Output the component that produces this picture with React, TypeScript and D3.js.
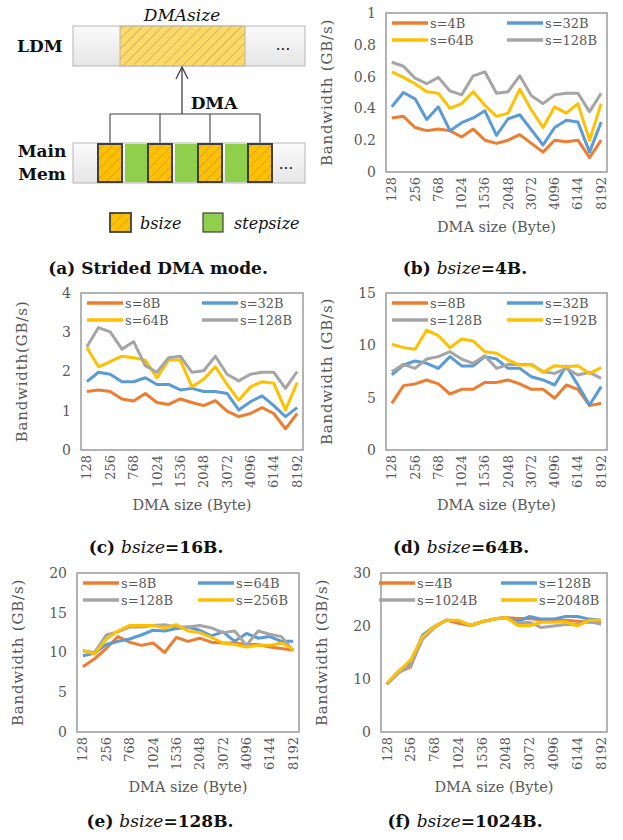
import React from "react";
import * as d3 from "d3";

// x categories (only every other one is labelled on the axis)
const dmaSizes = ["128", "192", "256", "512", "768", "896", "1024", "1280", "1536", "1792", "2048", "2560", "3072", "3584", "4096", "5120", "6144", "7168", "8192"];

// (b) bsize=4B
const b4_s4 = [0.34, 0.35, 0.28, 0.26, 0.27, 0.26, 0.22, 0.27, 0.2, 0.18, 0.2, 0.235, 0.18, 0.125, 0.2, 0.19, 0.2, 0.09, 0.2];
const b4_s32 = [0.41, 0.5, 0.46, 0.33, 0.41, 0.26, 0.31, 0.34, 0.385, 0.23, 0.335, 0.36, 0.265, 0.17, 0.28, 0.325, 0.315, 0.125, 0.315];
const b4_s64 = [0.63, 0.595, 0.555, 0.505, 0.495, 0.4, 0.43, 0.505, 0.42, 0.35, 0.37, 0.52, 0.39, 0.28, 0.41, 0.37, 0.43, 0.2, 0.43];
const b4_s128 = [0.69, 0.665, 0.59, 0.555, 0.595, 0.51, 0.485, 0.605, 0.63, 0.495, 0.505, 0.605, 0.48, 0.43, 0.485, 0.495, 0.495, 0.38, 0.495];

// (c) bsize=16B
const b16_s8 = [1.49, 1.53, 1.49, 1.3, 1.25, 1.44, 1.21, 1.16, 1.3, 1.21, 1.13, 1.26, 0.99, 0.85, 0.93, 1.08, 0.93, 0.54, 0.93];
const b16_s32 = [1.74, 1.98, 1.93, 1.74, 1.74, 1.84, 1.67, 1.67, 1.53, 1.57, 1.49, 1.49, 1.44, 1.02, 1.23, 1.38, 1.13, 0.85, 1.08];
const b16_s64 = [2.61, 2.12, 2.25, 2.39, 2.35, 2.29, 1.84, 2.29, 2.29, 1.61, 1.8, 2.12, 1.67, 1.27, 1.61, 1.74, 1.7, 1.02, 1.72];
const b16_s128 = [2.63, 3.12, 3.01, 2.57, 2.76, 2.15, 1.98, 2.35, 2.39, 1.98, 2.02, 2.39, 1.93, 1.76, 1.93, 1.98, 1.98, 1.57, 2.0];

// (d) bsize=64B
const b64_s8 = [4.46, 6.15, 6.31, 6.69, 6.31, 5.35, 5.8, 5.8, 6.46, 6.46, 6.69, 6.31, 5.8, 5.8, 4.94, 6.21, 5.8, 4.24, 4.46];
const b64_s32 = [7.17, 8.12, 8.5, 8.28, 7.8, 8.92, 8.03, 8.03, 8.92, 8.69, 7.8, 7.8, 7.0, 6.69, 6.21, 8.03, 6.21, 4.3, 6.05];
const b64_s128 = [7.48, 8.18, 7.8, 8.69, 8.92, 9.39, 8.69, 8.28, 9.01, 7.8, 8.18, 8.18, 8.18, 7.48, 7.32, 7.8, 7.17, 7.42, 6.85];
const b64_s192 = [10.1, 9.78, 9.62, 11.46, 10.92, 9.78, 10.6, 10.41, 9.39, 9.24, 8.6, 8.12, 8.12, 7.42, 8.06, 7.96, 8.06, 7.32, 7.87];

// (e) bsize=128B
const b128_s8 = [8.2, 9.2, 10.5, 12.0, 11.3, 10.9, 11.2, 10.0, 11.9, 11.4, 11.8, 11.3, 11.2, 11.2, 11.0, 11.0, 10.7, 10.5, 10.3];
const b128_s64 = [9.6, 9.9, 11.0, 11.4, 11.7, 12.2, 12.8, 12.7, 13.0, 13.2, 12.8, 12.1, 12.6, 11.4, 12.4, 11.8, 12.0, 11.4, 11.4];
const b128_s128 = [10.2, 10.0, 12.2, 12.6, 13.2, 13.2, 13.4, 13.5, 13.2, 13.2, 13.4, 13.1, 12.5, 12.7, 10.9, 12.7, 12.3, 12.0, 10.2];
const b128_s256 = [10.3, 9.8, 11.7, 12.7, 13.4, 13.4, 13.4, 13.1, 13.5, 12.7, 12.5, 11.9, 11.2, 11.0, 10.7, 10.9, 10.9, 11.2, 10.4];

// (f) bsize=1024B
const b1024_s4 = [9.0, 11.3, 12.3, 18.0, 19.9, 21.1, 20.5, 20.1, 20.8, 21.3, 21.6, 21.4, 21.4, 21.1, 21.1, 21.1, 20.9, 20.7, 20.7];
const b1024_s128 = [9.1, 11.5, 13.0, 18.3, 19.9, 21.1, 21.0, 20.1, 20.8, 21.3, 21.6, 20.8, 21.8, 21.3, 21.3, 21.8, 21.8, 21.3, 21.1];
const b1024_s1024 = [9.0, 11.2, 12.6, 17.5, 19.7, 21.1, 21.0, 20.1, 20.8, 21.3, 21.6, 20.5, 20.7, 19.7, 20.0, 20.3, 20.3, 20.9, 20.3];
const b1024_s2048 = [9.2, 11.5, 13.6, 18.0, 19.9, 21.1, 21.1, 20.1, 20.8, 21.3, 21.6, 20.1, 20.1, 20.7, 20.7, 20.8, 20.0, 21.1, 21.1];

const ORANGE = "#ed7d31";
const BLUE = "#5b9bd5";
const YELLOW = "#ffc000";
const GRAY = "#a5a5a5";
const FONT = "'DejaVu Serif', serif";
const INK = "#595959";

type Series = { name: string; color: string; values: number[] };

type PanelProps = {
  left: number; top: number; right: number; bottom: number;
  yMax: number; yTicks: number[];
  series: Series[];
  legendX?: number[];
  yTitle?: string;
  tickFmt?: (d: number) => string;
};

const LinePanel = ({ left, top, right, bottom, yMax, yTicks, series, legendX = [6, 121], yTitle = "Bandwidth (GB/s)", tickFmt = d => String(d) }: PanelProps) => {
  const x = d3.scalePoint<string>().domain(dmaSizes).range([left, right]).padding(0.5);
  const y = d3.scaleLinear().domain([0, yMax]).range([bottom, top]);
  const line = d3.line<number>()
    .x((_, i) => x(dmaSizes[i]) as number)
    .y(d => y(d));
  const rows = [top + 10, top + 27];

  return (
    <g fontFamily={FONT} fill={INK}>
      <rect x={left} y={top} width={right - left} height={bottom - top} fill="none" stroke="#9a9a9a" strokeWidth={1.5} />
      {yTicks.map(t => (
        <text key={t} x={left - 10} y={y(t)} dy="0.35em" textAnchor="end" fontSize={14}>{tickFmt(t)}</text>
      ))}
      {dmaSizes.filter((_, i) => i % 2 === 0).map(c => (
        <text key={c} transform={`translate(${x(c)},${bottom + 5}) rotate(-90)`} dy="0.35em" textAnchor="end" fontSize={13}>{c}</text>
      ))}
      <text transform={`translate(${left - 54},${(top + bottom) / 2}) rotate(-90)`} textAnchor="middle" fontSize={15} letterSpacing={0.8}>{yTitle}</text>
      <text x={(left + right) / 2} y={bottom + 60} textAnchor="middle" fontSize={14.5}>DMA size (Byte)</text>
      {series.map(s => (
        <path key={s.name} d={line(s.values) || ""} fill="none" stroke={s.color} strokeWidth={3} strokeLinejoin="round" />
      ))}
      {series.map((s, i) => {
        const lx = left + legendX[i % 2];
        const ly = rows[Math.floor(i / 2)];
        return (
          <g key={"lg" + s.name}>
            <line x1={lx} x2={lx + 36} y1={ly} y2={ly} stroke={s.color} strokeWidth={3.5} />
            <text x={lx + 38} y={ly} dy="0.36em" fontSize={13}>{s.name}</text>
          </g>
        );
      })}
    </g>
  );
};

const Caption = ({ x, y, label, rest, plain }: { x: number; y: number; label: string; rest?: string; plain?: boolean }) => (
  <text x={x} y={y} textAnchor="middle" fontFamily={FONT} fontSize={17} fontWeight="bold" fill="#111">
    <tspan>{label} </tspan>
    {plain ? null : <tspan fontStyle="italic" fontWeight="normal">bsize</tspan>}
    <tspan>{rest}</tspan>
  </text>
);

const Diagram = () => {
  const orangeBlocks = [98, 148, 198, 248];
  const greenBlocks = [124, 174, 224];
  const dark = "#404040";
  return (
    <g fontFamily={FONT}>
      <defs>
        <pattern id="hatch" patternUnits="userSpaceOnUse" width={7} height={7} patternTransform="rotate(45)">
          <line x1={0} y1={0} x2={0} y2={7} stroke="#9c8f6a" strokeWidth={0.9} />
        </pattern>
        <linearGradient id="bar" x1="0" y1="0" x2="0" y2="1">
          <stop offset="0" stopColor="#fafafa" />
          <stop offset="1" stopColor="#e6e6e6" />
        </linearGradient>
      </defs>
      {/* LDM */}
      <text x={17} y={52} fontSize={17} fontWeight="bold" fill="#111">LDM</text>
      <rect x={73} y={26} width={232} height={40} fill="url(#bar)" stroke="#b5b5b5" strokeWidth={1} />
      <rect x={120} y={26} width={125} height={40} fill="#ffd966" />
      <rect x={120} y={26} width={125} height={40} fill="url(#hatch)" stroke="#b5b5b5" strokeWidth={1} />
      <text x={182} y={21} textAnchor="middle" fontSize={17} fontStyle="italic" fill="#111">DMAsize</text>
      <text x={283} y={50} textAnchor="middle" fontSize={15} fill="#111">...</text>

      {/* DMA arrow and tree */}
      <line x1={182} y1={114} x2={182} y2={67} stroke={dark} strokeWidth={1.3} />
      <path d="M176,79 L182,67 L188,79" fill="none" stroke={dark} strokeWidth={1.3} />
      <text x={214} y={109} textAnchor="middle" fontSize={17} fontWeight="bold" fill="#111">DMA</text>
      <line x1={110} y1={114} x2={260} y2={114} stroke={dark} strokeWidth={1.1} />
      {orangeBlocks.map(b => (
        <line key={"v" + b} x1={b + 12} x2={b + 12} y1={114} y2={143} stroke={dark} strokeWidth={1.1} />
      ))}

      {/* Main memory */}
      <text x={42} y={157} textAnchor="middle" fontSize={17} fontWeight="bold" fill="#111">Main</text>
      <text x={42} y={180} textAnchor="middle" fontSize={17} fontWeight="bold" fill="#111">Mem</text>
      <rect x={73} y={143} width={232} height={40} fill="url(#bar)" stroke="#b5b5b5" strokeWidth={1} />
      {greenBlocks.map(b => (
        <rect key={"g" + b} x={b + 1} y={144} width={23} height={38} fill="#8fcf4c" />
      ))}
      {orangeBlocks.map(b => (
        <g key={"o" + b}>
          <rect x={b} y={144} width={24} height={38} fill="#ffc000" />
          <rect x={b} y={144} width={24} height={38} fill="url(#hatch)" stroke={dark} strokeWidth={2} />
        </g>
      ))}
      <text x={286} y={169} textAnchor="middle" fontSize={15} fill="#111">...</text>

      {/* legend */}
      <rect x={110} y={213} width={21} height={19} fill="#ffc000" />
      <rect x={110} y={213} width={21} height={19} fill="url(#hatch)" stroke={dark} strokeWidth={1.8} />
      <text x={140} y={229} fontSize={16} fontStyle="italic" fill="#111">bsize</text>
      <rect x={203} y={213} width={20} height={19} fill="#8fcf4c" stroke={dark} strokeWidth={1.2} />
      <text x={234} y={229} fontSize={16} fontStyle="italic" fill="#111">stepsize</text>
    </g>
  );
};

const App = () => {
  const fmt1 = (d: number) => (d === 0 || d === 1 ? String(d) : d.toFixed(1));
  return (
    <svg width={623} height={840} style={{ position: "absolute", left: 0, top: 0, background: "#fff" }}>
      <rect width={623} height={840} fill="#fff" />
      <Diagram />
      <Caption x={158} y={274} label="(a) Strided DMA mode." plain />

      <LinePanel left={386} top={13} right={607} bottom={172} yMax={1} yTicks={[0, 0.2, 0.4, 0.6, 0.8, 1]} tickFmt={fmt1}
        series={[
          { name: "s=4B", color: ORANGE, values: b4_s4 },
          { name: "s=32B", color: BLUE, values: b4_s32 },
          { name: "s=64B", color: YELLOW, values: b4_s64 },
          { name: "s=128B", color: GRAY, values: b4_s128 },
        ]} />
      <Caption x={465} y={274} label="(b)" rest="=4B." />

      <LinePanel left={81} top={293} right={303} bottom={450} yMax={4} yTicks={[0, 1, 2, 3, 4]} yTitle="Bandwidth(GB/s)"
        series={[
          { name: "s=8B", color: ORANGE, values: b16_s8 },
          { name: "s=32B", color: BLUE, values: b16_s32 },
          { name: "s=64B", color: YELLOW, values: b16_s64 },
          { name: "s=128B", color: GRAY, values: b16_s128 },
        ]} />
      <Caption x={156} y={553} label="(c)" rest="=16B." />

      <LinePanel left={386} top={293} right={607} bottom={450} yMax={15} yTicks={[0, 5, 10, 15]}
        series={[
          { name: "s=8B", color: ORANGE, values: b64_s8 },
          { name: "s=32B", color: BLUE, values: b64_s32 },
          { name: "s=128B", color: GRAY, values: b64_s128 },
          { name: "s=192B", color: YELLOW, values: b64_s192 },
        ]} />
      <Caption x={461} y={553} label="(d)" rest="=64B." />

      <LinePanel left={77} top={573} right={299} bottom={732} yMax={20} yTicks={[0, 5, 10, 15, 20]}
        series={[
          { name: "s=8B", color: ORANGE, values: b128_s8 },
          { name: "s=64B", color: BLUE, values: b128_s64 },
          { name: "s=128B", color: GRAY, values: b128_s128 },
          { name: "s=256B", color: YELLOW, values: b128_s256 },
        ]} />
      <Caption x={160} y={827} label="(e)" rest="=128B." />

      <LinePanel left={381} top={573} right={607} bottom={732} yMax={30} yTicks={[0, 10, 20, 30]} legendX={[-2, 120]}
        series={[
          { name: "s=4B", color: ORANGE, values: b1024_s4 },
          { name: "s=128B", color: BLUE, values: b1024_s128 },
          { name: "s=1024B", color: GRAY, values: b1024_s1024 },
          { name: "s=2048B", color: YELLOW, values: b1024_s2048 },
        ]} />
      <Caption x={465} y={827} label="(f)" rest="=1024B." />
    </svg>
  );
};

export default App;
